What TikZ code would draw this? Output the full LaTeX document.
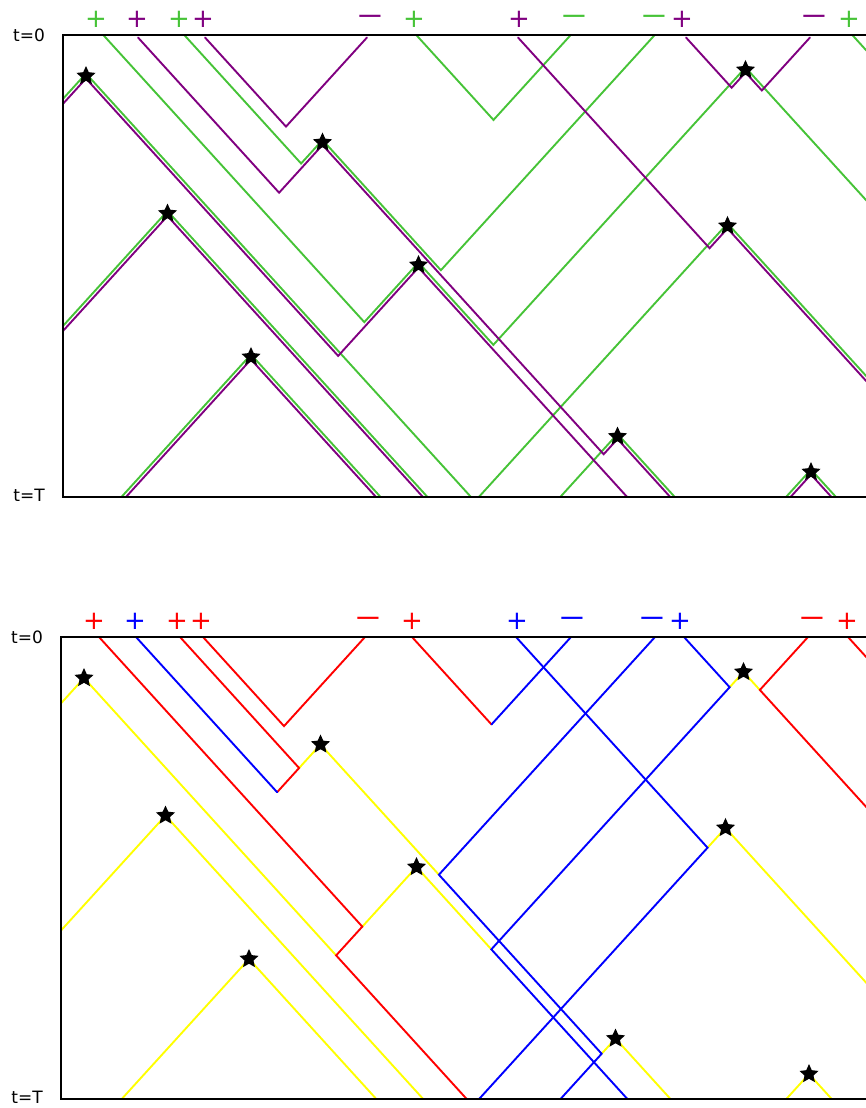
\documentclass[tikz,border=0pt]{standalone}
\usepackage{fontspec}
\setmainfont{DejaVu Sans}
\usepackage{tikz}
\usetikzlibrary{shapes.geometric}

\definecolor{lgreen}{RGB}{70,195,55}
\definecolor{dpurple}{RGB}{128,0,128}
\definecolor{lyellow}{RGB}{255,255,0}

\tikzstyle{world} = [line width=1.9pt, line cap=round, line join=miter]
\tikzstyle{greenpath} = [world, draw=lgreen]
\tikzstyle{purplepath} = [world, draw=dpurple]
\tikzstyle{redpath} = [world, draw=red]
\tikzstyle{bluepath} = [world, draw=blue]
\tikzstyle{yellowpath} = [world, draw=lyellow]
\tikzstyle{frame} = [draw=black, line width=2.4pt, line join=miter]
\tikzstyle{starmark} = [star, star points=5, star point ratio=2.1, fill=black, inner sep=0pt, minimum size=20pt]
\tikzstyle{charge} = [inner sep=0pt, font=\fontsize{26}{26}\selectfont]
\tikzstyle{timelabel} = [inner sep=0pt, font=\fontsize{17}{17}\selectfont]
\tikzstyle{cone} = [x={(0.5pt,0.55pt)}, y={(0.5pt,-0.55pt)}, shift={(0pt,-35pt)}]

\newcommand{\mns}{\scalebox{1.3}[1]{−}}

% stars in light-cone coordinates (a,b)
\newcommand{\starlist}{1/48.7/123.3, 2/224.8/420.2, 3/5.2/329.8, 4/209.4/627.6, 5/-41.7/543.7, 6/713.7/777.3, 7/553.9/901.1, 8/252.5/982.5, 9/413.7/1208.3}

\newcommand{\events}[1]{%
  \foreach \n/\a/\b in \starlist
    \coordinate (#1-st\n) at (\a,\b);
  % particles at t=0
  \foreach \a in {101,138,182,205,367,414,518,573,657,686,810,850}
    \coordinate (#1-in\a) at (\a,\a);
  % meetings, green run
  \foreach \n/\a/\b in {1/414/573, 2/182/420.2, 3/224.8/657, 4/101/627.6, 5/209.4/777.3}
    \coordinate (#1-mg\n) at (\a,\b);
  % meetings, purple run
  \foreach \n/\a/\b in {1/205/367, 2/686/777.3, 3/713.7/810, 4/138/420.2, 5/518/901.1, 6/48.7/627.6, 7/224.8/982.5}
    \coordinate (#1-mp\n) at (\a,\b);
  % leaving the box
  \foreach \n/\a in {0/850, 1/48.7, 3/5.2, 4/209.4, 5/-41.7, 6/713.7, 7/553.9, 8/252.5, 9/413.7}
    \coordinate (#1-xr\n) at (\a,\a+900);
  \foreach \n/\b in {1/123.3, 3/329.8, 5/543.7, 7/901.1, 8/982.5, 9/1208.3}
    \coordinate (#1-xl\n) at (\b-900,\b);
}

\begin{document}
\begin{tikzpicture}[x=1pt, y=-1pt]
\useasboundingbox (0,0) rectangle (865,1108);

% upper panel, two runs
\begin{scope}
\clip (63,35) rectangle (867,497);
\begin{scope}[cone, yshift=2.5pt]
\events{g}
\draw[greenpath] (g-in414) -- (g-mg1) -- (g-in573);
\draw[greenpath] (g-in182) -- (g-mg2) -- (g-st2) -- (g-mg3) -- (g-in657);
\draw[greenpath] (g-in101) -- (g-mg4) -- (g-st4) -- (g-mg5) -- (g-st6) -- (g-xr6);
\draw[greenpath] (g-in850) -- (g-xr0);
\draw[greenpath] (g-xl1) -- (g-st1) -- (g-xr1);
\draw[greenpath] (g-xl3) -- (g-st3) -- (g-xr3);
\draw[greenpath] (g-xl5) -- (g-st5) -- (g-xr5);
\draw[greenpath] (g-xl7) -- (g-st7) -- (g-xr7);
\draw[greenpath] (g-xl8) -- (g-st8) -- (g-xr8);
\draw[greenpath] (g-xl9) -- (g-st9) -- (g-xr9);
\end{scope}
\begin{scope}[cone, yshift=-2.5pt]
\events{p}
\draw[purplepath] (p-in205) -- (p-mp1) -- (p-in367);
\draw[purplepath] (p-in138) -- (p-mp4) -- (p-st2) -- (p-mp7) -- (p-st8) -- (p-xr8);
\draw[purplepath] (p-in686) -- (p-mp2) -- (p-st6) -- (p-mp3) -- (p-in810);
\draw[purplepath] (p-in518) -- (p-mp5) -- (p-st7) -- (p-xr7);
\draw[purplepath] (p-xl1) -- (p-st1) -- (p-mp6) -- (p-st4) -- (p-xr4);
\draw[purplepath] (p-xl3) -- (p-st3) -- (p-xr3);
\draw[purplepath] (p-xl5) -- (p-st5) -- (p-xr5);
\draw[purplepath] (p-xl9) -- (p-st9) -- (p-xr9);
\end{scope}
\end{scope}
\begin{scope}[cone]
\foreach \n/\a/\b in \starlist
  \node[starmark] (ts\n) at (\a,\b) {};
\end{scope}
\draw[frame] (867,35) -- (63,35) -- (63,497) -- (867,497);
\node[timelabel] (tzero) at (29,35.5) {t=0};
\node[timelabel] (tend) at (29,495.5) {t=T};
\foreach \px/\col/\sym [count=\k] in {96/lgreen/+, 137/dpurple/+, 179/lgreen/+, 203/dpurple/+, 370/dpurple/\mns, 414/lgreen/+, 519/dpurple/+, 574/lgreen/\mns, 654/lgreen/\mns, 682/dpurple/+, 814/dpurple/\mns, 849/lgreen/+}
  \node[charge, text=\col] (qa\k) at (\px,19.5) {\sym};

% lower panel, coupled picture
\begin{scope}[shift={(-2,602)}]
\begin{scope}
\clip (63,35) rectangle (869,497);
\begin{scope}[cone]
\events{b}
% shared
\draw[yellowpath] (b-xl1) -- (b-st1) -- (b-mp6);
\draw[yellowpath] (b-mg2) -- (b-st2) -- (b-mg3);
\draw[yellowpath] (b-xl3) -- (b-st3) -- (b-xr3);
\draw[yellowpath] (b-mg4) -- (b-st4) -- (b-mg5);
\draw[yellowpath] (b-xl5) -- (b-st5) -- (b-xr5);
\draw[yellowpath] (b-mp2) -- (b-st6) -- (b-mp3);
\draw[yellowpath] (b-mp5) -- (b-st7) -- (b-xr7);
\draw[yellowpath] (b-mp7) -- (b-st8) -- (b-xr8);
\draw[yellowpath] (b-xl9) -- (b-st9) -- (b-xr9);
% red
\draw[redpath] (b-in101) -- (b-mg4) -- (b-mp6) -- (b-xr1);
\draw[redpath] (b-in182) -- (b-mg2) -- (b-mp4);
\draw[redpath] (b-in205) -- (b-mp1) -- (b-in367);
\draw[redpath] (b-in414) -- (b-mg1);
\draw[redpath] (b-in810) -- (b-mp3) -- (b-xr6);
\draw[redpath] (b-in850) -- (b-xr0);
% blue
\draw[bluepath] (b-in138) -- (b-mp4);
\draw[bluepath] (b-in518) -- (b-mp5) -- (b-xl7);
\draw[bluepath] (b-in573) -- (b-mg1);
\draw[bluepath] (b-in657) -- (b-mg3) -- (b-mp7) -- (b-xl8);
\draw[bluepath] (b-in686) -- (b-mp2) -- (b-mg5) -- (b-xr4);
\end{scope}
\end{scope}
\begin{scope}[cone]
\foreach \n/\a/\b in \starlist
  \node[starmark] (bs\n) at (\a,\b) {};
\end{scope}
\draw[frame] (869,35) -- (63,35) -- (63,497) -- (869,497);
\node[timelabel] (bzero) at (29,35.5) {t=0};
\node[timelabel] (bend) at (29,495.5) {t=T};
\foreach \px/\col/\sym [count=\k] in {96/red/+, 137/blue/+, 179/red/+, 203/red/+, 370/red/\mns, 414/red/+, 519/blue/+, 574/blue/\mns, 654/blue/\mns, 682/blue/+, 814/red/\mns, 849/red/+}
  \node[charge, text=\col] (qb\k) at (\px,19.5) {\sym};
\end{scope}

\end{tikzpicture}
\end{document}
